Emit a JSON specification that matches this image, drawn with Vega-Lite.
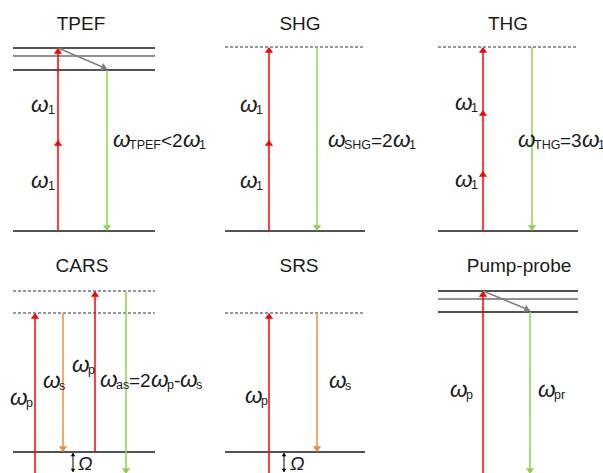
{
  "$schema": "https://vega.github.io/schema/vega-lite/v6.json",
  "width": 603,
  "height": 473,
  "autosize": {"type": "none"},
  "padding": 0,
  "background": "white",
  "config": {"view": {"stroke": null}},
  "datasets": {
    "levels": [
      {"x": 13, "x2": 155, "y": 48, "kind": "black"},
      {"x": 13, "x2": 155, "y": 56, "kind": "mid"},
      {"x": 13, "x2": 155, "y": 70, "kind": "black"},
      {"x": 13, "x2": 155, "y": 231, "kind": "black"},
      {"x": 225, "x2": 365, "y": 231, "kind": "black"},
      {"x": 438, "x2": 578, "y": 231, "kind": "black"},
      {"x": 13, "x2": 155, "y": 452, "kind": "black"},
      {"x": 225, "x2": 365, "y": 452, "kind": "black"},
      {"x": 438, "x2": 578, "y": 291, "kind": "black"},
      {"x": 438, "x2": 578, "y": 299, "kind": "mid"},
      {"x": 438, "x2": 578, "y": 312, "kind": "black"}
    ],
    "dashes": [
      {"x": 225, "x2": 365, "y": 47, "kind": "dash"},
      {"x": 438, "x2": 578, "y": 47, "kind": "dash"},
      {"x": 13, "x2": 155, "y": 291, "kind": "dash"},
      {"x": 13, "x2": 155, "y": 313, "kind": "dash"},
      {"x": 225, "x2": 365, "y": 313, "kind": "dash"}
    ],
    "arrows": [
      {"x": 58, "y": 231, "x2": 58, "y2": 49, "kind": "red"},
      {"x": 58, "y": 48, "x2": 106, "y2": 68.5, "kind": "gray"},
      {"x": 107, "y": 70, "x2": 107, "y2": 230, "kind": "green"},
      {"x": 269, "y": 231, "x2": 269, "y2": 48, "kind": "red"},
      {"x": 317, "y": 47, "x2": 317, "y2": 230, "kind": "green"},
      {"x": 483, "y": 231, "x2": 483, "y2": 48, "kind": "red"},
      {"x": 532, "y": 47, "x2": 532, "y2": 230, "kind": "green"},
      {"x": 35, "y": 480, "x2": 35, "y2": 314, "kind": "red"},
      {"x": 63, "y": 313, "x2": 63, "y2": 451, "kind": "orange"},
      {"x": 95, "y": 452, "x2": 95, "y2": 292, "kind": "red"},
      {"x": 126, "y": 291, "x2": 126, "y2": 480, "kind": "green"},
      {"x": 269, "y": 480, "x2": 269, "y2": 314, "kind": "red"},
      {"x": 317, "y": 313, "x2": 317, "y2": 451, "kind": "orange"},
      {"x": 483, "y": 480, "x2": 483, "y2": 292, "kind": "red"},
      {"x": 483, "y": 291, "x2": 529, "y2": 310, "kind": "gray"},
      {"x": 530, "y": 312, "x2": 530, "y2": 480, "kind": "green"}
    ],
    "heads": [
      {"x": 58, "y": 48, "deg": 0, "kind": "red"},
      {"x": 58, "y": 140, "deg": 0, "kind": "red"},
      {"x": 107, "y": 69, "deg": 113, "kind": "gray"},
      {"x": 107, "y": 231, "deg": 180, "kind": "green"},
      {"x": 269, "y": 47, "deg": 0, "kind": "red"},
      {"x": 269, "y": 140, "deg": 0, "kind": "red"},
      {"x": 317, "y": 231, "deg": 180, "kind": "green"},
      {"x": 483, "y": 47, "deg": 0, "kind": "red"},
      {"x": 483, "y": 110, "deg": 0, "kind": "red"},
      {"x": 483, "y": 171, "deg": 0, "kind": "red"},
      {"x": 532, "y": 231, "deg": 180, "kind": "green"},
      {"x": 35, "y": 313, "deg": 0, "kind": "red"},
      {"x": 63, "y": 452, "deg": 180, "kind": "orange"},
      {"x": 95, "y": 291, "deg": 0, "kind": "red"},
      {"x": 126, "y": 474, "deg": 180, "kind": "green"},
      {"x": 269, "y": 313, "deg": 0, "kind": "red"},
      {"x": 317, "y": 452, "deg": 180, "kind": "orange"},
      {"x": 483, "y": 291, "deg": 0, "kind": "red"},
      {"x": 530, "y": 311, "deg": 113, "kind": "gray"},
      {"x": 530, "y": 474, "deg": 180, "kind": "green"}
    ],
    "omegaShafts": [
      {"x": 73, "y": 453, "x2": 73, "y2": 472, "kind": "omega"},
      {"x": 284, "y": 453, "x2": 284, "y2": 472, "kind": "omega"}
    ],
    "omegaHeads": [
      {"x": 73, "y": 453, "deg": 0, "kind": "omega"},
      {"x": 73, "y": 472, "deg": 180, "kind": "omega"},
      {"x": 284, "y": 453, "deg": 0, "kind": "omega"},
      {"x": 284, "y": 472, "deg": 180, "kind": "omega"}
    ],
    "titles": [
      {"t": "TPEF", "x": 81, "y": 30},
      {"t": "SHG", "x": 300, "y": 30},
      {"t": "THG", "x": 508, "y": 30},
      {"t": "CARS", "x": 82, "y": 272},
      {"t": "SRS", "x": 299, "y": 272},
      {"t": "Pump-probe", "x": 519, "y": 272}
    ],
    "omegas": [
      {"t": "ω", "x": 31, "y": 112},
      {"t": "ω", "x": 31, "y": 188},
      {"t": "ω", "x": 113, "y": 147},
      {"t": "ω", "x": 183, "y": 147},
      {"t": "ω", "x": 240, "y": 112},
      {"t": "ω", "x": 240, "y": 188},
      {"t": "ω", "x": 328, "y": 147},
      {"t": "ω", "x": 393, "y": 147},
      {"t": "ω", "x": 455, "y": 110},
      {"t": "ω", "x": 455, "y": 187},
      {"t": "ω", "x": 518, "y": 147},
      {"t": "ω", "x": 582, "y": 147},
      {"t": "ω", "x": 10, "y": 405},
      {"t": "ω", "x": 43, "y": 388},
      {"t": "ω", "x": 72, "y": 372},
      {"t": "ω", "x": 100, "y": 387},
      {"t": "ω", "x": 151, "y": 387},
      {"t": "ω", "x": 180, "y": 387},
      {"t": "ω", "x": 245, "y": 403},
      {"t": "ω", "x": 329, "y": 388},
      {"t": "ω", "x": 450, "y": 397},
      {"t": "ω", "x": 538, "y": 397}
    ],
    "subs": [
      {"t": "1", "x": 48, "y": 114},
      {"t": "1", "x": 48, "y": 190},
      {"t": "TPEF", "x": 129, "y": 149},
      {"t": "1", "x": 199, "y": 149},
      {"t": "1", "x": 256, "y": 114},
      {"t": "1", "x": 256, "y": 190},
      {"t": "SHG", "x": 344, "y": 149},
      {"t": "1", "x": 409, "y": 149},
      {"t": "1", "x": 471, "y": 112},
      {"t": "1", "x": 471, "y": 189},
      {"t": "THG", "x": 534, "y": 149},
      {"t": "1", "x": 598, "y": 149},
      {"t": "p", "x": 26, "y": 407},
      {"t": "s", "x": 59, "y": 390},
      {"t": "p", "x": 88, "y": 374},
      {"t": "as", "x": 116, "y": 389},
      {"t": "p", "x": 167, "y": 389},
      {"t": "s", "x": 196, "y": 389},
      {"t": "p", "x": 261, "y": 405},
      {"t": "s", "x": 345, "y": 390},
      {"t": "p", "x": 466, "y": 399},
      {"t": "pr", "x": 554, "y": 399}
    ],
    "mains": [
      {"t": "<2", "x": 161, "y": 147},
      {"t": "=2", "x": 371, "y": 147},
      {"t": "=3", "x": 560, "y": 147},
      {"t": "=2", "x": 129, "y": 387},
      {"t": "-", "x": 174, "y": 387}
    ],
    "bigOmega": [
      {"t": "Ω", "x": 78, "y": 470},
      {"t": "Ω", "x": 290, "y": 470}
    ]
  },
  "encoding": {
    "x": {"field": "x", "type": "quantitative", "scale": {"domain": [0, 603], "nice": false, "zero": false}, "axis": null},
    "y": {"field": "y", "type": "quantitative", "scale": {"domain": [0, 473], "nice": false, "zero": false, "reverse": true}, "axis": null}
  },
  "layer": [
    {
      "data": {"name": "levels"},
      "mark": {"type": "rule", "strokeWidth": 1.5},
      "encoding": {
        "x2": {"field": "x2"},
        "color": {"field": "kind", "type": "nominal", "legend": null,
          "scale": {"domain": ["red", "green", "orange", "gray", "black", "mid", "dash", "omega"],
                    "range": ["#ff0000", "#92d050", "#f08c3c", "#808080", "#1a1a1a", "#6e6e6e", "#333333", "#000000"]}}
      }
    },
    {
      "data": {"name": "dashes"},
      "mark": {"type": "rule", "strokeWidth": 1.2, "strokeDash": [3, 2]},
      "encoding": {
        "x2": {"field": "x2"},
        "color": {"field": "kind", "type": "nominal", "legend": null}
      }
    },
    {
      "data": {"name": "arrows"},
      "mark": {"type": "rule", "strokeWidth": 1.5},
      "encoding": {
        "x2": {"field": "x2"},
        "y2": {"field": "y2"},
        "color": {"field": "kind", "type": "nominal", "legend": null}
      }
    },
    {
      "data": {"name": "heads"},
      "mark": {"type": "point", "shape": "M0,0L-1,1.4L1,1.4Z", "size": 70, "filled": true, "opacity": 1},
      "encoding": {
        "color": {"field": "kind", "type": "nominal", "legend": null},
        "angle": {"field": "deg", "type": "quantitative", "legend": null, "scale": {"domain": [0, 360], "range": [0, 360]}}
      }
    },
    {
      "data": {"name": "omegaShafts"},
      "mark": {"type": "rule", "strokeWidth": 1},
      "encoding": {
        "x2": {"field": "x2"},
        "y2": {"field": "y2"},
        "color": {"field": "kind", "type": "nominal", "legend": null}
      }
    },
    {
      "data": {"name": "omegaHeads"},
      "mark": {"type": "point", "shape": "M0,0L-1,1.4L1,1.4Z", "size": 22, "filled": true, "opacity": 1},
      "encoding": {
        "color": {"field": "kind", "type": "nominal", "legend": null},
        "angle": {"field": "deg", "type": "quantitative", "legend": null}
      }
    },
    {
      "data": {"name": "titles"},
      "mark": {"type": "text", "font": "Liberation Sans", "fontSize": 19, "align": "center", "baseline": "alphabetic", "color": "#1a1a1a"},
      "encoding": {"text": {"field": "t"}}
    },
    {
      "data": {"name": "omegas"},
      "mark": {"type": "text", "font": "Liberation Sans", "fontSize": 22.5, "fontStyle": "italic", "align": "left", "baseline": "alphabetic", "color": "#1a1a1a"},
      "encoding": {"text": {"field": "t"}}
    },
    {
      "data": {"name": "subs"},
      "mark": {"type": "text", "font": "Liberation Sans", "fontSize": 12.5, "align": "left", "baseline": "alphabetic", "color": "#1a1a1a"},
      "encoding": {"text": {"field": "t"}}
    },
    {
      "data": {"name": "mains"},
      "mark": {"type": "text", "font": "Liberation Sans", "fontSize": 19, "align": "left", "baseline": "alphabetic", "color": "#1a1a1a"},
      "encoding": {"text": {"field": "t"}}
    },
    {
      "data": {"name": "bigOmega"},
      "mark": {"type": "text", "font": "Liberation Sans", "fontSize": 19, "fontStyle": "italic", "align": "left", "baseline": "alphabetic", "color": "#1a1a1a"},
      "encoding": {"text": {"field": "t"}}
    }
  ]
}
